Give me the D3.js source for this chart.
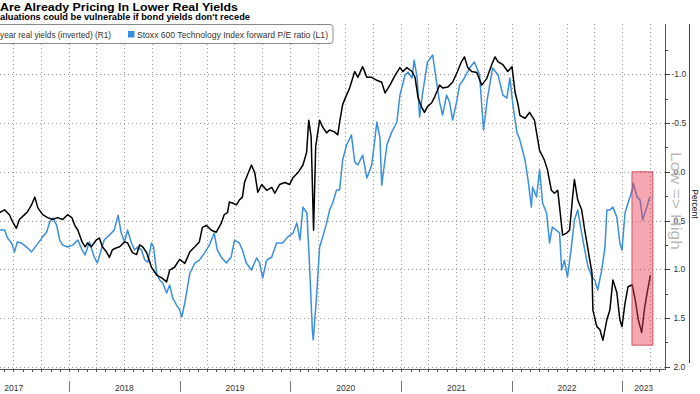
<!DOCTYPE html>
<html>
<head>
<meta charset="utf-8">
<script src="https://cdn.jsdelivr.net/npm/d3@7"></script>
<style>
  html, body { margin: 0; padding: 0; background: #fff; }
  svg { display: block; font-family: "Liberation Sans", Arial, sans-serif; }
</style>
</head>
<body>
<div id="chart"></div>
<script>
// Real yields (inverted, right axis) - values in percent
var yieldDates = ["2017-05-06","2017-05-16","2017-06-02","2017-06-18","2017-06-28","2017-07-11","2017-07-21","2017-08-07","2017-08-17","2017-08-30",
  "2017-09-10","2017-09-20","2017-10-06","2017-10-22","2017-11-08","2017-11-24","2017-12-11","2017-12-27","2018-01-10","2018-01-20",
  "2018-01-30","2018-02-13","2018-02-23","2018-03-03","2018-03-15","2018-04-01","2018-04-11","2018-04-21","2018-05-04","2018-05-14",
  "2018-05-24","2018-06-07","2018-06-17","2018-07-03","2018-07-13","2018-07-29","2018-08-12","2018-08-22","2018-09-01","2018-09-14",
  "2018-09-30","2018-10-17","2018-11-03","2018-11-19","2018-11-29","2018-12-15","2019-01-01","2019-01-18","2019-02-04","2019-02-20",
  "2019-03-07","2019-03-17","2019-03-30","2019-04-16","2019-05-02","2019-05-18","2019-05-28","2019-06-08","2019-06-14","2019-06-24",
  "2019-07-07","2019-07-17","2019-07-27","2019-08-03","2019-08-13","2019-08-26","2019-09-06","2019-09-16","2019-09-29","2019-10-15",
  "2019-11-01","2019-11-11","2019-11-27","2019-12-14","2019-12-30","2020-01-10","2020-01-26","2020-02-12","2020-02-24","2020-03-02",
  "2020-03-10","2020-03-18","2020-03-25","2020-04-07","2020-04-17","2020-04-30","2020-05-10","2020-05-26","2020-06-06","2020-06-12",
  "2020-06-22","2020-07-05","2020-07-15","2020-08-01","2020-08-11","2020-08-27","2020-09-10","2020-09-26","2020-10-13","2020-10-29",
  "2020-11-09","2020-11-25","2020-12-12","2020-12-28","2021-01-07","2021-01-20","2021-02-06","2021-02-16","2021-02-26","2021-03-09",
  "2021-03-19","2021-03-29","2021-04-12","2021-04-22","2021-05-08","2021-05-18","2021-06-04","2021-06-20","2021-07-06","2021-07-19",
  "2021-07-29","2021-08-09","2021-08-22","2021-09-08","2021-09-24","2021-10-11","2021-10-27","2021-11-07","2021-11-17","2021-12-03",
  "2021-12-19","2022-01-02","2022-01-12","2022-01-22","2022-01-28","2022-02-14","2022-03-01","2022-03-17","2022-04-03","2022-04-19",
  "2022-04-29","2022-05-12","2022-05-22","2022-06-02","2022-06-08","2022-06-18","2022-07-01","2022-07-11","2022-07-21","2022-07-27",
  "2022-08-07","2022-08-20","2022-08-30","2022-09-10","2022-09-23","2022-09-26","2022-10-09","2022-10-19","2022-10-29","2022-11-11",
  "2022-11-21","2022-12-01","2022-12-14","2022-12-24","2022-12-31","2023-01-10","2023-01-20","2023-02-03","2023-02-13","2023-02-23",
  "2023-03-06","2023-03-16","2023-03-26","2023-04-04"];
var yieldValues = [0.41,0.42,0.39,0.44,0.51,0.58,0.49,0.44,0.41,0.34,
  0.26,0.37,0.44,0.47,0.49,0.47,0.49,0.44,0.47,0.55,
  0.60,0.72,0.77,0.73,0.77,0.70,0.68,0.77,0.82,0.88,
  0.80,0.78,0.77,0.72,0.73,0.83,0.85,0.75,0.77,0.83,
  0.98,1.06,1.09,1.13,1.01,0.98,0.90,0.94,0.82,0.77,
  0.72,0.57,0.55,0.60,0.62,0.53,0.44,0.42,0.31,0.32,
  0.34,0.29,0.26,0.11,0.03,-0.07,0.01,0.21,0.13,0.19,
  0.16,0.22,0.13,0.11,0.13,0.06,0.01,-0.07,-0.20,-0.53,
  -0.36,0.60,-0.26,-0.53,-0.46,-0.40,-0.43,-0.41,-0.38,-0.51,
  -0.69,-0.79,-0.86,-1.03,-0.97,-1.08,-0.97,-0.97,-0.94,-0.92,
  -0.81,-0.89,-0.99,-1.07,-1.03,-1.07,-1.03,-0.97,-0.76,-0.67,
  -0.61,-0.67,-0.71,-0.77,-0.89,-0.86,-0.87,-0.92,-1.03,-1.13,
  -1.18,-1.07,-1.03,-1.02,-0.89,-0.96,-1.10,-1.18,-1.13,-1.10,
  -1.03,-1.08,-0.82,-0.69,-0.58,-0.55,-0.61,-0.53,-0.22,-0.12,
  -0.02,0.19,0.22,0.19,0.36,0.65,0.63,0.60,0.26,0.08,
  0.29,0.39,0.60,0.80,1.04,1.42,1.59,1.62,1.73,1.52,
  1.42,1.11,1.24,1.52,1.59,1.35,1.18,1.16,1.32,1.52,
  1.65,1.39,1.21,1.06];

// Stoxx 600 Technology forward P/E (left axis, not shown in crop)
var peDates = ["2017-05-06","2017-05-16","2017-06-02","2017-06-12","2017-06-25","2017-07-05","2017-07-14","2017-07-27","2017-08-14","2017-08-30",
  "2017-09-16","2017-10-03","2017-10-19","2017-10-29","2017-11-08","2017-11-21","2017-12-01","2017-12-11","2017-12-27","2018-01-13",
  "2018-01-30","2018-02-13","2018-02-23","2018-03-09","2018-03-25","2018-04-04","2018-04-17","2018-04-27","2018-05-14","2018-05-30",
  "2018-06-12","2018-06-22","2018-07-03","2018-07-13","2018-07-26","2018-08-05","2018-08-15","2018-08-28","2018-09-08","2018-09-18",
  "2018-09-30","2018-10-07","2018-10-17","2018-10-27","2018-11-06","2018-11-19","2018-11-29","2018-12-09","2018-12-22","2019-01-01",
  "2019-01-08","2019-01-18","2019-02-04","2019-02-20","2019-03-07","2019-03-24","2019-04-09","2019-04-25","2019-05-05","2019-05-18",
  "2019-06-04","2019-06-20","2019-07-01","2019-07-17","2019-07-27","2019-08-09","2019-08-26","2019-09-12","2019-09-22","2019-10-02",
  "2019-10-15","2019-11-01","2019-11-17","2019-12-07","2019-12-23","2020-01-10","2020-01-23","2020-02-02","2020-02-12","2020-02-25",
  "2020-03-05","2020-03-14","2020-03-17","2020-03-27","2020-04-07","2020-04-17","2020-04-30","2020-05-10","2020-05-20","2020-06-02",
  "2020-06-12","2020-06-22","2020-07-05","2020-07-21","2020-08-01","2020-08-11","2020-08-27","2020-09-10","2020-09-26","2020-10-13",
  "2020-10-23","2020-10-29","2020-11-15","2020-12-01","2020-12-18","2020-12-28","2021-01-14","2021-01-24","2021-02-06","2021-02-13",
  "2021-02-23","2021-03-03","2021-03-12","2021-03-29","2021-04-15","2021-04-28","2021-05-08","2021-05-18","2021-05-31","2021-06-10",
  "2021-06-20","2021-07-03","2021-07-13","2021-07-29","2021-08-15","2021-08-31","2021-09-17","2021-09-30","2021-10-13","2021-10-30",
  "2021-11-17","2021-12-03","2021-12-16","2021-12-26","2022-01-05","2022-01-18","2022-01-28","2022-02-14","2022-02-24","2022-03-07",
  "2022-03-11","2022-03-24","2022-04-03","2022-04-13","2022-04-26","2022-05-06","2022-05-15","2022-05-28","2022-06-08","2022-06-15",
  "2022-06-24","2022-07-04","2022-07-17","2022-07-27","2022-08-07","2022-08-20","2022-08-30","2022-09-10","2022-09-23","2022-10-02",
  "2022-10-12","2022-10-25","2022-11-05","2022-11-11","2022-11-21","2022-12-01","2022-12-14","2022-12-24","2022-12-31","2023-01-10",
  "2023-01-20","2023-02-03","2023-02-06","2023-02-19","2023-03-01","2023-03-09","2023-03-23","2023-04-02"];
var peValues = [21.91,22.01,22.01,21.60,21.35,20.89,21.40,21.35,21.14,20.89,
  21.24,21.60,21.91,22.43,22.63,22.27,21.50,21.24,21.14,21.24,
  21.50,20.99,20.73,21.40,20.63,20.32,20.99,21.50,21.76,22.01,
  22.78,21.86,21.40,22.01,21.35,20.99,21.14,20.99,20.47,20.37,
  21.35,21.14,19.81,19.45,19.29,18.78,19.19,18.52,18.16,17.91,
  17.55,18.27,19.81,20.32,20.47,20.83,21.24,21.86,20.99,20.63,
  20.32,20.63,21.50,21.35,20.99,20.32,19.96,20.58,20.32,19.55,
  20.47,20.63,21.35,21.35,21.65,21.86,22.37,21.50,23.19,22.89,
  20.12,16.88,16.37,18.42,21.14,21.65,22.37,23.04,23.40,24.07,
  24.07,25.61,26.38,26.89,25.50,25.35,25.86,24.68,25.35,27.56,
  26.74,24.32,26.38,27.04,27.56,28.94,29.97,30.12,29.82,30.74,
  29.82,27.81,28.94,30.64,31.00,29.61,28.58,27.92,28.94,28.58,
  27.66,28.58,29.46,29.82,30.33,30.64,29.97,27.15,28.79,30.33,
  29.97,28.94,28.79,29.82,28.43,27.04,26.63,25.61,24.58,23.19,
  24.22,23.71,25.10,23.40,22.89,21.35,22.17,22.01,21.86,19.96,
  20.47,19.60,21.14,22.53,23.04,21.86,20.99,20.12,19.60,19.45,
  18.94,19.96,21.14,23.04,23.04,23.19,22.68,21.35,20.99,22.89,
  23.40,24.07,24.43,23.71,23.55,22.53,23.19,23.71];

var yearLabels = ["2017","2018","2019","2020","2021","2022","2023"];
var rightTicks = [-1.0, -0.5, 0.0, 0.5, 1.0, 1.5, 2.0];
var highlightDates = ["2023-02-02","2023-04-12"];
var highlightValues = [0.0, 1.78];

var width = 700, height = 394;
var plotLeft = -41.5, plotRight = 665, plotTop = 24, plotBottom = 369;
var parse = d3.timeParse("%Y-%m-%d");

var svg = d3.select("#chart").append("svg")
    .attr("width", width)
    .attr("height", height);

// scales
var x = d3.scaleTime()
    .domain([new Date(2017, 0, 1), new Date(2023, 4, 22)])
    .range([plotLeft, plotRight]);
var yRight = d3.scaleLinear().domain([-1.518, 2.025]).range([plotTop, plotBottom]);
var yLeft = d3.scaleLinear().domain([32.59, 14.88]).range([plotTop, plotBottom]);

// grid
var grid = svg.append("g").attr("stroke", "#9a9a9a").attr("stroke-dasharray", "1,3").attr("stroke-width", 1);
grid.selectAll("line.v")
    .data(d3.timeMonth.every(3).range(x.domain()[0], x.domain()[1]))
    .enter().append("line")
    .attr("x1", function (d) { return Math.round(x(d)) + 0.5; })
    .attr("x2", function (d) { return Math.round(x(d)) + 0.5; })
    .attr("y1", plotTop).attr("y2", plotBottom);
grid.selectAll("line.h")
    .data(rightTicks)
    .enter().append("line")
    .attr("x1", 0).attr("x2", plotRight)
    .attr("y1", function (d) { return Math.round(yRight(d)) + 0.5; })
    .attr("y2", function (d) { return Math.round(yRight(d)) + 0.5; });

// lines
svg.append("clipPath").attr("id", "clip").append("rect")
    .attr("x", plotLeft).attr("y", plotTop)
    .attr("width", plotRight - plotLeft).attr("height", plotBottom - plotTop);

var peData = peDates.map(function (d, i) { return { date: parse(d), value: peValues[i] }; });
var yieldData = yieldDates.map(function (d, i) { return { date: parse(d), value: yieldValues[i] }; });

var peLine = d3.line().x(function (d) { return x(d.date); }).y(function (d) { return yLeft(d.value); });
var yieldLine = d3.line().x(function (d) { return x(d.date); }).y(function (d) { return yRight(d.value); });

var lines = svg.append("g").attr("clip-path", "url(#clip)");
lines.append("path").datum(peData)
    .attr("d", peLine).attr("fill", "none")
    .attr("stroke", "#3a8ee0").attr("stroke-width", 1.5).attr("stroke-linejoin", "round");
lines.append("path").datum(yieldData)
    .attr("d", yieldLine).attr("fill", "none")
    .attr("stroke", "#000").attr("stroke-width", 1.5).attr("stroke-linejoin", "round");

// highlight box
svg.append("rect")
    .attr("x", x(parse(highlightDates[0])))
    .attr("y", yRight(highlightValues[0]))
    .attr("width", x(parse(highlightDates[1])) - x(parse(highlightDates[0])))
    .attr("height", yRight(highlightValues[1]) - yRight(highlightValues[0]))
    .attr("fill", "rgb(236,62,84)").attr("fill-opacity", 0.45)
    .attr("stroke", "#c8374a").attr("stroke-width", 0.8);

// frame
svg.append("line").attr("x1", 0).attr("x2", plotRight + 0.5)
    .attr("y1", plotBottom + 0.5).attr("y2", plotBottom + 0.5).attr("stroke", "#555");
svg.append("line").attr("x1", plotRight + 0.5).attr("x2", plotRight + 0.5)
    .attr("y1", plotTop).attr("y2", plotBottom + 0.5).attr("stroke", "#555");

// bottom month ticks
svg.append("g").selectAll("line")
    .data(d3.timeMonth.range(x.domain()[0], x.domain()[1]))
    .enter().append("line")
    .attr("x1", function (d) { return Math.round(x(d)) + 0.5; })
    .attr("x2", function (d) { return Math.round(x(d)) + 0.5; })
    .attr("y1", plotBottom).attr("y2", plotBottom + 3)
    .attr("stroke", "#555");

// year separators and labels
var years = yearLabels.map(function (y) { return new Date(+y, 0, 1); });
svg.append("g").selectAll("line")
    .data(years.slice(1))
    .enter().append("line")
    .attr("x1", function (d) { return Math.round(x(d)) + 0.5; })
    .attr("x2", function (d) { return Math.round(x(d)) + 0.5; })
    .attr("y1", 381).attr("y2", 392)
    .attr("stroke", "#777");
svg.append("g").selectAll("text")
    .data(yearLabels)
    .enter().append("text")
    .attr("x", function (d, i) {
        var a = Math.max(x(years[i]), plotLeft);
        var b = Math.min(x(new Date(+d + 1, 0, 1)), plotRight);
        return (a + b) / 2;
    })
    .attr("y", 390.5)
    .attr("text-anchor", "middle")
    .attr("font-size", 8.5).attr("fill", "#333")
    .text(function (d) { return d; });

// right axis ticks
var minor = d3.range(-1.25, 2.01, 0.25);
svg.append("g").selectAll("line")
    .data(minor)
    .enter().append("line")
    .attr("x1", plotRight)
    .attr("x2", function (d) { return Math.abs(d * 2 - Math.round(d * 2)) < 0.01 ? plotRight + 5 : plotRight + 3; })
    .attr("y1", function (d) { return Math.round(yRight(d)) + 0.5; })
    .attr("y2", function (d) { return Math.round(yRight(d)) + 0.5; })
    .attr("stroke", "#444");
svg.append("g").selectAll("text")
    .data(rightTicks)
    .enter().append("text")
    .attr("x", function (d) { return d < 0 ? 671.5 : 673.5; })
    .attr("y", function (d) { return yRight(d) + 3; })
    .attr("font-size", 8.5).attr("fill", "#333")
    .text(function (d) { return d3.format(".1f")(d).replace("−", "-"); });

// right decorations
svg.append("line").attr("x1", 689.5).attr("x2", 689.5).attr("y1", plotTop).attr("y2", 363)
    .attr("stroke", "#444");
svg.append("text")
    .attr("transform", "translate(695,204) rotate(90)")
    .attr("text-anchor", "middle").attr("dy", "0.35em")
    .attr("font-size", 8.5).attr("fill", "#222")
    .text("Percent");
svg.append("text")
    .attr("transform", "translate(676.5,201) rotate(90)")
    .attr("text-anchor", "middle").attr("dy", "0.35em")
    .attr("font-size", 15).attr("fill", "#b8b8b8")
    .attr("textLength", 98).attr("lengthAdjust", "spacingAndGlyphs")
    .text("Low => High");

// legend
var legend = svg.append("g");
legend.append("rect")
    .attr("x", -6).attr("y", 24.5).attr("width", 339).attr("height", 19).attr("rx", 3)
    .attr("fill", "#fff").attr("stroke", "#8a8a8a");
legend.append("text")
    .attr("x", 0).attr("y", 38)
    .attr("font-size", 8.8).attr("fill", "#333")
    .attr("textLength", 111).attr("lengthAdjust", "spacingAndGlyphs")
    .text("year real yields (inverted) (R1)");
legend.append("rect")
    .attr("x", 128).attr("y", 31).attr("width", 6.5).attr("height", 6.5)
    .attr("fill", "#3a8ee0");
legend.append("text")
    .attr("x", 137).attr("y", 38)
    .attr("font-size", 8.8).attr("fill", "#333")
    .attr("textLength", 191).attr("lengthAdjust", "spacingAndGlyphs")
    .text("Stoxx 600 Technology Index forward P/E ratio (L1)");

// titles
svg.append("text")
    .attr("x", 0).attr("y", 11)
    .attr("font-size", 11.5).attr("font-weight", "bold").attr("fill", "#000")
    .attr("textLength", 238).attr("lengthAdjust", "spacingAndGlyphs")
    .text("Are Already Pricing In Lower Real Yields");
svg.append("text")
    .attr("x", 0).attr("y", 19.5)
    .attr("font-size", 8.3).attr("font-weight", "bold").attr("fill", "#000")
    .attr("textLength", 250).attr("lengthAdjust", "spacingAndGlyphs")
    .text("aluations could be vulnerable if bond yields don't recede");
</script>
</body>
</html>
